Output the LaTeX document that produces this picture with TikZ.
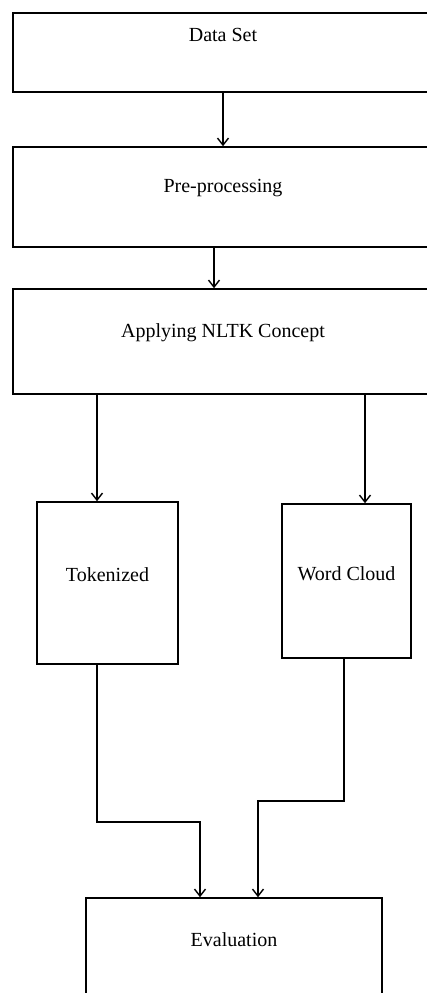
\documentclass[tikz,border=0pt]{standalone}
\usepackage{fontspec}
\setmainfont{Liberation Serif}
\usetikzlibrary{arrows.meta}

\begin{document}
\begin{tikzpicture}[x=1pt,y=-1pt,every node/.style={font=\fontsize{20}{24}\selectfont},
  blk/.style={draw,line width=1.6pt,inner sep=0pt},
  arr/.style={line width=1.6pt,-{Straight Barb[length=7pt,width=11pt,line width=1.4pt]}}]
\useasboundingbox (0,0) rectangle (427,993);
\clip (0,0) rectangle (427,993);
% main column
\node[blk,minimum width=420pt,minimum height=79pt] (data) at (223,52.5) {};
\node (dataT) at (223,35) {Data Set};
\node[blk,minimum width=420pt,minimum height=100pt] (pre) at (223,197) {};
\node (preT) at (223,188) {Pre-processing};
\node[blk,minimum width=420pt,minimum height=105pt] (nltk) at (223,341.5) {};
\node (nltkT) at (223,333) {Applying NLTK Concept};
% two branches
\node[blk,minimum width=141pt,minimum height=162pt] (tok) at (107.5,583) {};
\node (tokT) at (107.5,575) {Tokenized};
\node[blk,minimum width=129pt,minimum height=154pt] (cloud) at (346.5,581) {};
\node (cloudT) at (346.5,574) {Word Cloud};
\node[blk,minimum width=296pt,minimum height=112pt] (eval) at (234,954) {};
\node (evalT) at (234,940) {Evaluation};
% connectors
\draw[arr] (data.south) -- (pre.north);
\draw[arr] (pre.south -| 214,0) -- (nltk.north -| 214,0);
\draw[arr] (nltk.south -| 97,0) -- (tok.north -| 97,0);
\draw[arr] (nltk.south -| 365,0) -- (cloud.north -| 365,0);
\draw[arr] (tok.south -| 97,0) |- (200,822) -- (eval.north -| 200,0);
\draw[arr] (cloud.south -| 344,0) |- (258,801) -- (eval.north -| 258,0);
\end{tikzpicture}
\end{document}
